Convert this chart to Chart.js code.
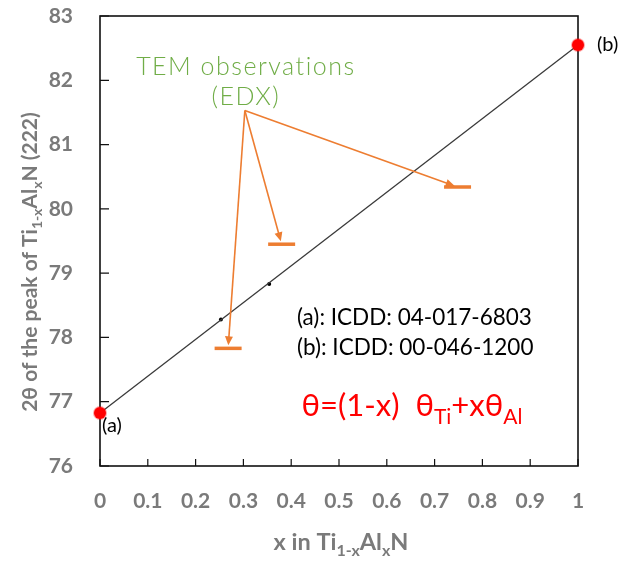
<!DOCTYPE html>
<html>
<head>
<meta charset="utf-8">
<script src="https://cdn.jsdelivr.net/npm/chart.js@4/dist/chart.umd.min.js"></script>
<style>
  html, body { margin: 0; padding: 0; background: #fff; }
</style>
</head>
<body>
<canvas id="myChart" width="622" height="561"></canvas>
<script>
// Vegard's law line between the two ICDD references
const xVegard = [0, 1];
const yVegard = [76.825, 82.55];
// small black points on the line
const xDots = [0.253, 0.354];
const yDots = [78.28, 78.83];
// TEM observations (EDX)
const xTem = [0.268, 0.38, 0.748];
const yTem = [77.83, 79.45, 80.34];
// where the three arrows start
const arrowFrom = [0.303, 81.53];

const xTicks = [0, 0.1, 0.2, 0.3, 0.4, 0.5, 0.6, 0.7, 0.8, 0.9, 1];
const yTicks = [76, 77, 78, 79, 80, 81, 82, 83];

const grey = '#7a7a7a';
const orange = '#ed7d31';
const green = '#70ad47';

function toPts(xs, ys) {
	return xs.map(function(x, i) { return {x: x, y: ys[i]}; });
}

// text with subscripts: parts = [[text, isSub], ...]
function drawRich(ctx, parts, x, y, size, weight, color) {
	const sub = Math.round(size * 0.68);
	let w = 0;
	parts.forEach(function(p) {
		ctx.font = weight + ' ' + (p[1] ? sub : size) + 'px Lato';
		w += ctx.measureText(p[0]).width;
	});
	let cx = x - w / 2;
	ctx.fillStyle = color;
	ctx.textBaseline = 'alphabetic';
	ctx.textAlign = 'left';
	parts.forEach(function(p) {
		ctx.font = weight + ' ' + (p[1] ? sub : size) + 'px Lato';
		ctx.fillText(p[0], cx, y + (p[1] ? size * 0.26 : 0));
		cx += ctx.measureText(p[0]).width;
	});
}

function arrow(ctx, x1, y1, x2, y2) {
	const a = Math.atan2(y2 - y1, x2 - x1);
	ctx.beginPath();
	ctx.moveTo(x1, y1);
	ctx.lineTo(x2 - 6 * Math.cos(a), y2 - 6 * Math.sin(a));
	ctx.stroke();
	ctx.beginPath();
	ctx.moveTo(x2, y2);
	ctx.lineTo(x2 - 9 * Math.cos(a) + 4 * Math.sin(a), y2 - 9 * Math.sin(a) - 4 * Math.cos(a));
	ctx.lineTo(x2 - 9 * Math.cos(a) - 4 * Math.sin(a), y2 - 9 * Math.sin(a) + 4 * Math.cos(a));
	ctx.closePath();
	ctx.fill();
}

const frame = {
	id: 'frame',
	beforeDatasetsDraw(chart) {
		const ctx = chart.ctx;
		const a = chart.chartArea;
		const xs = chart.scales.x, ys = chart.scales.y;
		ctx.save();
		ctx.strokeStyle = '#111';
		ctx.lineWidth = 1.6;
		ctx.strokeRect(a.left, a.top, a.right - a.left, a.bottom - a.top);
		ctx.lineWidth = 1.2;
		ctx.beginPath();
		xTicks.forEach(function(t) {
			const px = xs.getPixelForValue(t);
			ctx.moveTo(px, a.bottom);
			ctx.lineTo(px, a.bottom - 7);
		});
		yTicks.forEach(function(t) {
			const py = ys.getPixelForValue(t);
			ctx.moveTo(a.left, py);
			ctx.lineTo(a.left + 9, py);
		});
		ctx.stroke();
		ctx.restore();
	},
	afterDatasetsDraw(chart) {
		const ctx = chart.ctx;
		const a = chart.chartArea;
		const xs = chart.scales.x, ys = chart.scales.y;
		ctx.save();

		// arrows to the TEM marks
		const ox = xs.getPixelForValue(arrowFrom[0]);
		const oy = ys.getPixelForValue(arrowFrom[1]);
		ctx.strokeStyle = orange;
		ctx.fillStyle = orange;
		ctx.lineWidth = 1.6;
		xTem.forEach(function(x, i) {
			const tx = xs.getPixelForValue(x), ty = ys.getPixelForValue(yTem[i]);
			const d = Math.hypot(tx - ox, ty - oy);
			arrow(ctx, ox, oy, tx - (tx - ox) / d * 3, ty - (ty - oy) / d * 3);
		});

		// annotation texts
		ctx.fillStyle = green;
		ctx.textAlign = 'center';
		ctx.textBaseline = 'alphabetic';
		ctx.font = '300 25px Lato';
		ctx.letterSpacing = '1.5px';
		ctx.fillText('TEM observations', ox + 1, oy - 36);
		ctx.fillText('(EDX)', ox + 1, oy - 6);
		ctx.letterSpacing = '0px';

		ctx.fillStyle = '#000';
		ctx.textAlign = 'left';
		ctx.font = '22.5px Lato';
		ctx.fillText('(a): ICDD: 04-017-6803', 297, 325);
		ctx.fillText('(b): ICDD: 00-046-1200', 297, 355);
		ctx.font = '20px Lato';
		ctx.fillText('(a)', xs.getPixelForValue(xVegard[0]) + 2, ys.getPixelForValue(yVegard[0]) + 19);
		ctx.fillText('(b)', xs.getPixelForValue(xVegard[1]) + 19, ys.getPixelForValue(yVegard[1]) + 6);

		drawRich(ctx, [['\u03b8=(1-x)  \u03b8', 0], ['Ti', 1], ['+x\u03b8', 0], ['Al', 1]], 412, 416, 31, 'normal', '#ff0000');

		// axis titles
		drawRich(ctx, [['x in Ti', 0], ['1-x', 1], ['Al', 0], ['x', 1], ['N', 0]], 341, 550, 23.5, 'bold', grey);
		ctx.translate(37, 262);
		ctx.rotate(-Math.PI / 2);
		drawRich(ctx, [['2\u03b8 of the peak of Ti', 0], ['1-x', 1], ['Al', 0], ['x', 1], ['N (222)', 0]], 0, 0, 21, 'bold', grey);
		ctx.restore();
	}
};

const ctx = document.getElementById('myChart').getContext('2d');

const chart = new Chart(ctx, {
	type: 'scatter',
	data: {
		datasets: [{
			label: 'Vegard',
			data: toPts(xVegard, yVegard),
			showLine: true,
			borderColor: '#3a3a3a',
			borderWidth: 1.3,
			pointRadius: 6,
			pointBackgroundColor: '#ff0000',
			pointBorderColor: 'rgba(255, 0, 0, 0.35)',
			pointBorderWidth: 2,
			clip: false
		}, {
			label: 'dots',
			data: toPts(xDots, yDots),
			pointRadius: 2,
			pointBackgroundColor: '#000',
			pointBorderWidth: 0
		}, {
			label: 'TEM',
			data: toPts(xTem, yTem),
			pointStyle: 'line',
			pointRadius: 13.5,
			pointBorderWidth: 3.5,
			pointBorderColor: orange,
			borderColor: orange
		}]
	},
	options: {
		responsive: false,
		animation: false,
		layout: { autoPadding: false, padding: { top: 16, right: 44, left: 0, bottom: 0 } },
		plugins: { legend: { display: false }, tooltip: { enabled: false } },
		scales: {
			x: {
				type: 'linear',
				min: 0,
				max: 1,
				afterFit: function(s) { s.height = 95; s.paddingLeft = 0; s.paddingRight = 0; },
				afterBuildTicks: function(s) { s.ticks = xTicks.map(function(v) { return {value: v}; }); },
				grid: { display: false, drawTicks: false },
				border: { display: false },
				ticks: {
					padding: 23,
					color: grey,
					font: { family: 'Lato', size: 21, weight: 'bold' },
					callback: function(v) { return String(v); }
				}
			},
			y: {
				type: 'linear',
				min: 76,
				max: 83,
				afterFit: function(s) { s.width = 100; s.paddingTop = 0; s.paddingBottom = 0; },
				afterBuildTicks: function(s) { s.ticks = yTicks.map(function(v) { return {value: v}; }); },
				grid: { display: false, drawTicks: false },
				border: { display: false },
				ticks: {
					padding: 27,
					color: grey,
					font: { family: 'Lato', size: 21, weight: 'bold' },
					callback: function(v) { return String(v); }
				}
			}
		}
	},
	plugins: [frame]
});
</script>
</body>
</html>
